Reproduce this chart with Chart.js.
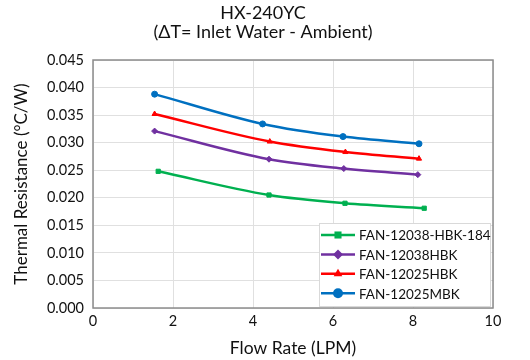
<!DOCTYPE html>
<html>
<head>
<meta charset="utf-8">
<script src="https://cdn.jsdelivr.net/npm/chart.js@4"></script>
<style>
html, body { margin: 0; padding: 0; background: #fff; }
</style>
</head>
<body>
<canvas id="chart" width="530" height="360"></canvas>
<script>
// Données
const seriesNames = ["FAN-12038-HBK-184", "FAN-12038HBK", "FAN-12025HBK", "FAN-12025MBK"];
const flowGreen = [1.63, 4.40, 6.30, 8.28];
const resGreen = [0.0248, 0.0205, 0.0190, 0.0181];
const flowPurple = [1.54, 4.40, 6.27, 8.12];
const resPurple = [0.0321, 0.0270, 0.0253, 0.0242];
const flowRed = [1.54, 4.42, 6.31, 8.15];
const resRed = [0.0352, 0.0302, 0.0283, 0.0271];
const flowBlue = [1.54, 4.24, 6.25, 8.15];
const resBlue = [0.0388, 0.0334, 0.0311, 0.0298];

const titleLines = ["HX-240YC", "(\u0394T= Inlet Water - Ambient)"];
const xTitle = "Flow Rate (LPM)";
const yTitle = "Thermal Resistance (\u00B0C/W)";

const FONT = "Lato, 'Open Sans', sans-serif";
const TEXT = "#111";

function pts(xs, ys) {
    return xs.map((x, i) => ({ x: x, y: ys[i] }));
}

const styles = [
    { color: "#00b050", marker: "rect" },
    { color: "#7030a0", marker: "rectRot" },
    { color: "#ff0000", marker: "triangle" },
    { color: "#0070c0", marker: "circle" },
];
const allX = [flowGreen, flowPurple, flowRed, flowBlue];
const allY = [resGreen, resPurple, resRed, resBlue];

const datasets = seriesNames.map((name, i) => ({
    label: name,
    data: pts(allX[i], allY[i]),
    borderColor: styles[i].color,
    backgroundColor: styles[i].color,
    pointStyle: styles[i].marker,
    pointRadius: 3,
    pointBorderWidth: 1,
    borderWidth: 2.5,
    tension: 0.4,
    cubicInterpolationMode: "monotone",
}));

// Plugin : fond, cadre, titre et légende dans la zone du graphique
const decor = {
    id: "decor",
    beforeDraw(chart) {
        const c = chart.ctx;
        c.save();
        c.fillStyle = "#fff";
        c.fillRect(0, 0, chart.width, chart.height);
        c.restore();
    },
    afterDraw(chart) {
        const c = chart.ctx;
        const a = chart.chartArea;
        c.save();
        // cadre
        c.strokeStyle = "#8c8c8c";
        c.lineWidth = 1.5;
        c.strokeRect(a.left, a.top, a.right - a.left, a.bottom - a.top);
        // titre
        c.fillStyle = TEXT;
        c.textAlign = "center";
        c.textBaseline = "middle";
        c.font = "18px " + FONT;
        c.fillText(titleLines[0], 263, 13);
        c.fillText(titleLines[1], 263, 32);
        // légende
        const lx = 319, ly = 223, lw = 171, lh = 83;
        c.fillStyle = "#fff";
        c.fillRect(lx, ly, lw, lh);
        c.strokeStyle = "#d9d9d9";
        c.lineWidth = 1;
        c.strokeRect(lx + 0.5, ly + 0.5, lw, lh);
        c.font = "13.5px " + FONT;
        c.textAlign = "left";
        seriesNames.forEach((name, i) => {
            const y = 235 + i * 19.4;
            c.strokeStyle = styles[i].color;
            c.lineWidth = 2.5;
            c.beginPath();
            c.moveTo(321, y);
            c.lineTo(355, y);
            c.stroke();
            c.fillStyle = styles[i].color;
            Chart.helpers.drawPoint(c, { pointStyle: styles[i].marker, radius: 5, borderWidth: 0 }, 338, y);
            c.fillStyle = TEXT;
            c.fillText(name, 359, y + 1);
        });
        c.restore();
    },
};

const config = {
    type: "line",
    data: { datasets: datasets },
    options: {
        responsive: false,
        animation: false,
        layout: { padding: { top: 60, right: 37, left: 0, bottom: 0 } },
        plugins: {
            legend: { display: false },
            title: { display: false },
            tooltip: { enabled: false },
        },
        scales: {
            x: {
                type: "linear",
                min: 0,
                max: 10,
                ticks: { stepSize: 2, color: TEXT, font: { family: FONT, size: 14.5 }, padding: 5 },
                grid: { color: "#e0e0e0", drawTicks: false },
                border: { display: false },
                title: { display: true, text: xTitle, color: TEXT, font: { family: FONT, size: 17.5 }, padding: { top: 2, bottom: 1 } },
                afterFit: (s) => { s.height = 52; },
            },
            y: {
                min: 0,
                max: 0.045,
                ticks: {
                    stepSize: 0.005,
                    color: TEXT,
                    font: { family: FONT, size: 14.5 },
                    padding: 9,
                    callback: (v) => v.toFixed(3),
                },
                grid: { color: "#e0e0e0", drawTicks: false },
                border: { display: false },
                title: { display: true, text: yTitle, color: TEXT, font: { family: FONT, size: 17 }, padding: { top: 11, bottom: 2 } },
                afterFit: (s) => { s.width = 93; },
            },
        },
    },
    plugins: [decor],
};

const chart = new Chart(document.getElementById("chart"), config);
</script>
</body>
</html>
